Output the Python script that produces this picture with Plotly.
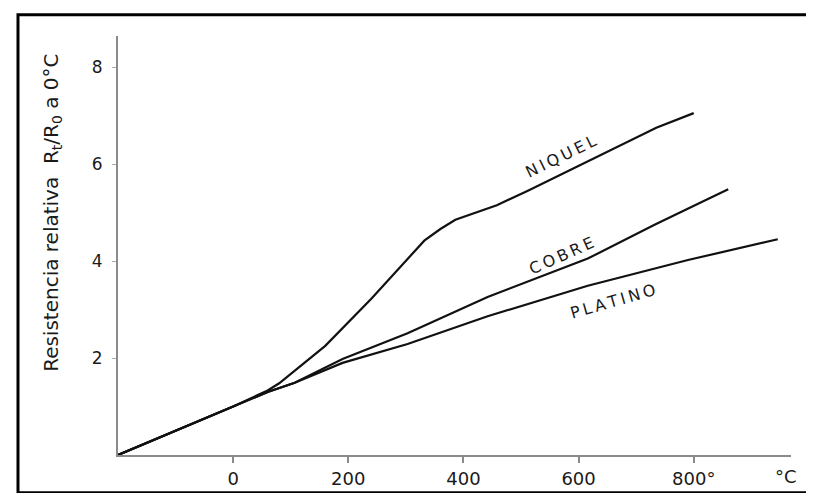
import plotly.graph_objects as go

# Temperatures (°C) and relative resistance Rt/R0
niquel_t = [-200, 0, 60, 80, 160, 240, 332, 360, 386, 458, 512, 595, 735, 800]
niquel_r = [0.0, 1.0, 1.33, 1.48, 2.25, 3.22, 4.42, 4.66, 4.85, 5.15, 5.45, 5.94, 6.75, 7.05]

cobre_t = [-200, 0, 60, 107, 190, 303, 442, 616, 732, 813, 860]
cobre_r = [0.0, 1.0, 1.3, 1.49, 1.98, 2.51, 3.26, 4.05, 4.75, 5.21, 5.48]

platino_t = [-200, 0, 60, 107, 190, 303, 442, 616, 790, 946]
platino_r = [0.0, 1.0, 1.3, 1.49, 1.9, 2.29, 2.86, 3.49, 4.02, 4.45]

x_tickvals = [0, 200, 400, 600, 800]
x_ticktext = ["0", "200", "400", "600", "800°"]
y_tickvals = [2, 4, 6, 8]
y_ticktext = ["2", "4", "6", "8"]

labels = [("NIQUEL", 569, 6.15, -26), ("COBRE", 571, 4.12, -24), ("PLATINO", 659, 3.17, -16)]

FONT = "DejaVu Sans"
SP = "\u2009"
fig = go.Figure()
for t, r in [(niquel_t, niquel_r), (cobre_t, cobre_r), (platino_t, platino_r)]:
    fig.add_trace(go.Scatter(x=t, y=r, mode="lines",
                             line=dict(color="#111", width=2.2), showlegend=False,
                             hoverinfo="skip"))

for text, x, y, ang in labels:
    fig.add_annotation(x=x, y=y, text=SP.join(text), showarrow=False, textangle=ang,
                       font=dict(family=FONT, size=16, color="#1a1a1a"))

fig.add_annotation(x=960, y=-0.021, xref="x", yref="paper", yanchor="top",
                   text="°C", showarrow=False,
                   font=dict(family=FONT, size=18, color="#1a1a1a"))
fig.add_annotation(x=-0.098, y=0.578, xref="paper", yref="paper",
                   xanchor="center", yanchor="middle",
                   text="Resistencia relativa  R<sub>t</sub>/R<sub>0</sub> a 0°C",
                   showarrow=False, textangle=-90,
                   font=dict(family=FONT, size=20, color="#1a1a1a"))

# outer frame
fig.add_shape(type="rect", xref="paper", yref="paper",
              x0=-0.1486, x1=1.0416, y0=-0.09, y1=1.0507,
              line=dict(color="black", width=3), fillcolor="rgba(0,0,0,0)")

fig.update_layout(
    width=814, height=493,
    margin=dict(l=110, r=31, t=28, b=31),
    plot_bgcolor="white", paper_bgcolor="white",
    font=dict(family=FONT, color="#1a1a1a"),
    xaxis=dict(range=[-200, 969], showgrid=False, zeroline=False,
               showline=True, linecolor="#8a8a8a", linewidth=2,
               tickvals=x_tickvals, ticktext=x_ticktext,
               ticks="outside", ticklen=6, tickwidth=2, tickcolor="#8a8a8a",
               tickfont=dict(family=FONT, size=18, color="#1a1a1a")),
    yaxis=dict(range=[0, 8.64], showgrid=False, zeroline=False,
               showline=True, linecolor="#8a8a8a", linewidth=2,
               tickvals=y_tickvals, ticktext=y_ticktext,
               ticks="outside", ticklen=4, tickwidth=1, tickcolor="#aaa",
               ticklabelstandoff=6,
               tickfont=dict(family=FONT, size=17, color="#1a1a1a")),
)

fig.write_html("out.html")
